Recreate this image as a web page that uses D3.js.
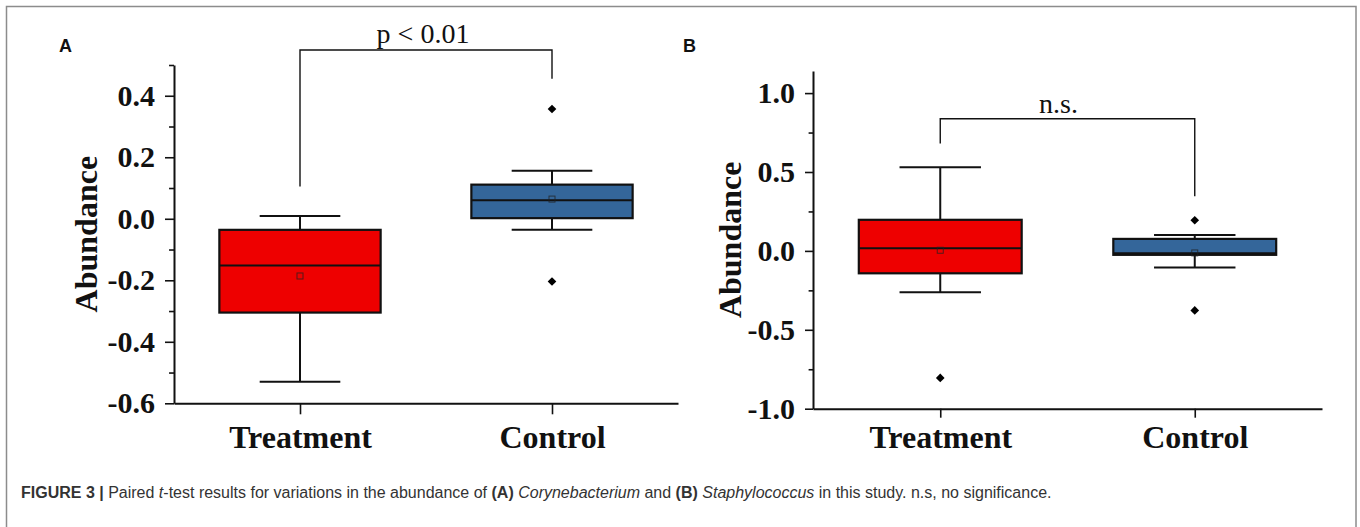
<!DOCTYPE html>
<html><head><meta charset="utf-8">
<script src="https://cdn.jsdelivr.net/npm/d3@7"></script>
<style>body{margin:0;background:#fff;} svg{display:block}</style>
</head><body>
<svg id="chart" width="1360" height="527"></svg>
<script>
const categories = ["Treatment", "Control"];
const boxColors = ["#ee0000", "#34669a"];

// Panel A (Corynebacterium): [lower whisker, Q1, median, Q3, upper whisker]
const boxA = [[-0.530, -0.305, -0.152, -0.036, 0.009], [-0.036, 0.002, 0.060, 0.111, 0.156]];
const meanA = [-0.186, 0.064];
const outliersA = [[], [0.357, -0.204]];
const domainA = [-0.6, 0.5];
const ticksA = [-0.6, -0.4, -0.2, 0.0, 0.2, 0.4];
const minorTicksA = [-0.5, -0.3, -0.1, 0.1, 0.3, 0.5];
const bracketA = [0.105, 0.549, 0.455]; // left leg end, bar level, right leg end
const sigLabelA = "p < 0.01";

// Panel B (Staphylococcus)
const boxB = [[-0.262, -0.142, 0.017, 0.197, 0.530], [-0.106, -0.025, -0.015, 0.076, 0.101]];
const meanB = [0.004, -0.013];
const outliersB = [[-0.805], [0.194, -0.377]];
const domainB = [-1.0, 1.14];
const ticksB = [-1.0, -0.5, 0.0, 0.5, 1.0];
const minorTicksB = [-0.75, -0.25, 0.25, 0.75];
const bracketB = [0.680, 0.837, 0.346];
const sigLabelB = "n.s.";

const yTitle = "Abundance";
const panelLetters = ["A", "B"];

const svg = d3.select("#chart");
const serif = "'Liberation Serif','Times New Roman',Times,serif";
const sans = "'Liberation Sans',Arial,Helvetica,sans-serif";

svg.append("rect").attr("x", 6.5).attr("y", 6.5).attr("width", 1349.5).attr("height", 560)
  .attr("fill", "none").attr("stroke", "#8c8c8c").attr("stroke-width", 1.5);

function panel(o) {
  const x = d3.scalePoint().domain(categories).range(o.xr).padding(0.5);
  const y = d3.scaleLinear().domain(o.domain).range(o.yr);
  const g = svg.append("g");
  const bw = x.step() * 0.64, cw = x.step() * 0.32;

  categories.forEach((c, i) => {
    const s = o.box[i], cx = x(c);
    const gl = g.append("g").attr("stroke", "#111").attr("stroke-width", 2);
    gl.append("line").attr("x1", cx).attr("x2", cx).attr("y1", y(s[0])).attr("y2", y(s[1]));
    gl.append("line").attr("x1", cx).attr("x2", cx).attr("y1", y(s[3])).attr("y2", y(s[4]));
    gl.append("line").attr("x1", cx - cw / 2).attr("x2", cx + cw / 2).attr("y1", y(s[0])).attr("y2", y(s[0]));
    gl.append("line").attr("x1", cx - cw / 2).attr("x2", cx + cw / 2).attr("y1", y(s[4])).attr("y2", y(s[4]));
    gl.append("rect").attr("x", cx - bw / 2).attr("y", y(s[3])).attr("width", bw)
      .attr("height", y(s[1]) - y(s[3])).attr("fill", boxColors[i]).attr("stroke-width", 2.2);
    gl.append("line").attr("x1", cx - bw / 2).attr("x2", cx + bw / 2).attr("y1", y(s[2])).attr("y2", y(s[2]));
    g.append("rect").attr("x", cx - 3).attr("y", y(o.mean[i]) - 3).attr("width", 6).attr("height", 6)
      .attr("fill", "none").attr("stroke", "#222").attr("stroke-opacity", 0.75).attr("stroke-width", 1);
    o.out[i].forEach(v => {
      g.append("path").attr("d", d3.symbol(d3.symbolDiamond2, 48)())
        .attr("transform", `translate(${cx},${y(v)})`).attr("fill", "#000");
    });
  });

  // y axis
  const ya = g.append("g").attr("transform", `translate(${o.xr[0]},0)`)
    .call(d3.axisLeft(y).tickValues(o.ticks).tickFormat(d => d.toFixed(1))
      .tickSize(o.tick).tickSizeOuter(0).tickPadding(10));
  ya.select(".domain").attr("stroke", "#111").attr("stroke-width", 2);
  ya.selectAll(".tick line").attr("stroke", "#111").attr("stroke-width", 1.6);
  ya.selectAll("text").attr("font-family", serif).attr("font-weight", "bold")
    .attr("font-size", 30).attr("fill", "#111");
  const ym = g.append("g").attr("transform", `translate(${o.xr[0]},0)`)
    .call(d3.axisLeft(y).tickValues(o.minor).tickFormat("").tickSize(o.tick * 0.55).tickSizeOuter(0));
  ym.select(".domain").remove();
  ym.selectAll(".tick line").attr("stroke", "#111").attr("stroke-width", 1.6);

  // x axis
  const xa = g.append("g").attr("transform", `translate(0,${o.yr[0]})`)
    .call(d3.axisBottom(x).tickSize(o.xtick).tickSizeOuter(0));
  xa.select(".domain").attr("stroke", "#111").attr("stroke-width", 2);
  xa.selectAll(".tick line").attr("stroke", "#111").attr("stroke-width", 1.6);
  xa.selectAll("text").attr("dy", null).attr("y", 448 - o.yr[0])
    .attr("font-family", serif).attr("font-weight", "bold").attr("font-size", 32).attr("fill", "#111");

  // y title
  g.append("text").attr("transform", `translate(${o.titleX},${(o.yr[0] + o.yr[1]) / 2}) rotate(-90)`)
    .attr("text-anchor", "middle").attr("font-family", serif).attr("font-weight", "bold")
    .attr("font-size", 32).attr("fill", "#111").text(yTitle);

  // significance bracket
  const x0 = x(categories[0]), x1 = x(categories[1]);
  g.append("path").attr("d", `M${x0},${y(o.bracket[0])}V${y(o.bracket[1])}H${x1}V${y(o.bracket[2])}`)
    .attr("fill", "none").attr("stroke", "#111").attr("stroke-width", 1.4);
  g.append("text").attr("x", (x0 + x1) / 2 + o.labelDx).attr("y", y(o.bracket[1]) - o.labelGap)
    .attr("text-anchor", "middle").attr("font-family", serif).attr("font-size", 28).attr("fill", "#111")
    .text(o.sig);

  // panel letter
  g.append("text").attr("x", o.letterX).attr("y", 52).attr("font-family", sans).attr("font-weight", "bold")
    .attr("font-size", 18).attr("fill", "#111").text(o.letter);
}

panel({box: boxA, mean: meanA, out: outliersA, domain: domainA, ticks: ticksA, minor: minorTicksA,
  bracket: bracketA, sig: sigLabelA, letter: panelLetters[0],
  xr: [174, 678], yr: [403.3, 65], tick: 9, xtick: 11, titleX: 97, labelDx: -3, labelGap: 7, letterX: 59});
panel({box: boxB, mean: meanB, out: outliersB, domain: domainB, ticks: ticksB, minor: minorTicksB,
  bracket: bracketB, sig: sigLabelB, letter: panelLetters[1],
  xr: [813, 1322], yr: [408.7, 71], tick: 8, xtick: 9, titleX: 741, labelDx: -9, labelGap: 6, letterX: 683});

// caption
const cap = svg.append("text").attr("x", 21).attr("y", 498).attr("font-family", sans)
  .attr("font-size", 16).attr("fill", "#333");
const parts = [
  ["FIGURE 3 | ", "bold", "normal"], ["Paired ", "normal", "normal"], ["t", "normal", "italic"],
  ["-test results for variations in the abundance of ", "normal", "normal"], ["(A)", "bold", "normal"],
  [" ", "normal", "normal"], ["Corynebacterium", "normal", "italic"], [" and ", "normal", "normal"],
  ["(B)", "bold", "normal"], [" ", "normal", "normal"], ["Staphylococcus", "normal", "italic"],
  [" in this study. n.s, no significance.", "normal", "normal"]
];
parts.forEach(p => cap.append("tspan").attr("font-weight", p[1]).attr("font-style", p[2])
  .attr("xml:space", "preserve").text(p[0]));
</script>
</body></html>
